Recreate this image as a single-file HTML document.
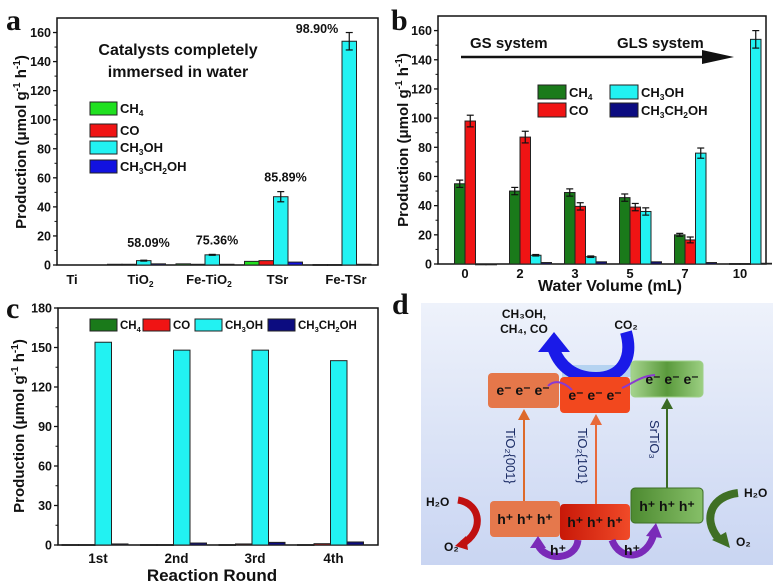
<!DOCTYPE html>
<html><head><meta charset="utf-8">
<style>
html,body{margin:0;padding:0;background:#fff;}
svg{display:block;font-family:"Liberation Sans",Arial,sans-serif;}
.t{font-weight:bold;fill:#111;}
.t text{fill:#111;}
.pl{font-family:"Liberation Serif",serif;font-weight:bold;font-size:30px;fill:#111;}
</style></head>
<body>
<svg id="fig" width="780" height="586" viewBox="0 0 780 586" xmlns="http://www.w3.org/2000/svg">
<defs>
<linearGradient id="bgd" x1="0" y1="0" x2="0" y2="1"><stop offset="0" stop-color="#eef2fb"/><stop offset="1" stop-color="#c9d5f2"/></linearGradient>
<linearGradient id="gre" x1="0" y1="0" x2="1" y2="0"><stop offset="0" stop-color="#a6d48e"/><stop offset="0.5" stop-color="#5a9a3c"/><stop offset="1" stop-color="#9ccf82"/></linearGradient>
<linearGradient id="grh" x1="0" y1="0" x2="1" y2="0"><stop offset="0" stop-color="#4d8a30"/><stop offset="1" stop-color="#86bf68"/></linearGradient>
<linearGradient id="redh" x1="0" y1="0" x2="1" y2="0"><stop offset="0" stop-color="#c81808"/><stop offset="1" stop-color="#f04a28"/></linearGradient>
</defs>

<text class="pl" x="6" y="30">a</text>
<text class="pl" x="391" y="30">b</text>
<text class="pl" x="6" y="318">c</text>
<text class="pl" x="392" y="314">d</text>

<g id="pa"></g>
<g id="pb"></g>
<g id="pc"></g>

<text class="t" x="178" y="55" font-size="16" text-anchor="middle">Catalysts completely</text>
<text class="t" x="178" y="77" font-size="16" text-anchor="middle">immersed in water</text>

<g>
<line x1="461" y1="57" x2="705" y2="57" stroke="#111" stroke-width="2.5"/>
<polygon points="702,50 734,57 702,64" fill="#111"/>
</g>
<text class="t" x="470" y="48" font-size="15">GS system</text>
<text class="t" x="617" y="48" font-size="15">GLS system</text>

<g>
<rect x="421" y="303" width="352" height="262" fill="url(#bgd)"/>
<rect x="562" y="365" width="70" height="12" fill="#a9cdef" opacity="0.8"/>
<path d="M626,332 C634,360 620,378 596,378 C574,378 560,366 554,350" fill="none" stroke="#1a1ae8" stroke-width="12"/>
<polygon points="538,352 554,332 570,352" fill="#1a1ae8"/>
<text x="524" y="318" font-size="12" font-weight="bold" fill="#111" text-anchor="middle">CH₃OH,</text>
<text x="524" y="333" font-size="12" font-weight="bold" fill="#111" text-anchor="middle">CH₄, CO</text>
<text x="626" y="329" font-size="12" font-weight="bold" fill="#111" text-anchor="middle">CO₂</text>
<rect x="488" y="373" width="71" height="35" rx="4" fill="#e5774a"/>
<rect x="560" y="377" width="70" height="36" rx="4" fill="#f2481e"/>
<rect x="631" y="361" width="72" height="36" rx="4" fill="url(#gre)" stroke="#9fd08a"/>
<rect x="490" y="501" width="70" height="36" rx="4" fill="#e5784c"/>
<rect x="560" y="504" width="70" height="36" rx="4" fill="url(#redh)"/>
<rect x="631" y="488" width="72" height="35" rx="4" fill="url(#grh)" stroke="#3d6e26"/>
<g font-size="14" font-weight="bold" fill="#111" text-anchor="middle">
<text x="523" y="395" fill="#111">e⁻ e⁻ e⁻</text>
<text x="595" y="400" fill="#111">e⁻ e⁻ e⁻</text>
<text x="672" y="384" fill="#111">e⁻ e⁻ e⁻</text>
<text x="525" y="524" fill="#111">h⁺ h⁺ h⁺</text>
<text x="595" y="527" fill="#111">h⁺ h⁺ h⁺</text>
<text x="667" y="511" fill="#111">h⁺ h⁺ h⁺</text>
</g>
<line x1="524" y1="501" x2="524" y2="418" stroke="#dd6a2a" stroke-width="2"/><polygon points="518,420 524,409 530,420" fill="#dd6a2a"/>
<line x1="596" y1="504" x2="596" y2="423" stroke="#e86a3a" stroke-width="2"/><polygon points="590,425 596,414 602,425" fill="#e86a3a"/>
<line x1="667" y1="488" x2="667" y2="407" stroke="#3a6a24" stroke-width="2"/><polygon points="661,409 667,398 673,409" fill="#3a6a24"/>
<g font-size="13" fill="#1c2d66">
<text transform="translate(506,428) rotate(90)">TiO₂{001}</text>
<text transform="translate(578,428) rotate(90)">TiO₂{101}</text>
<text transform="translate(650,420) rotate(90)">SrTiO₃</text>
</g>
<path d="M548,386 C556,378 566,384 572,390" fill="none" stroke="#8a3ad0" stroke-width="2"/>
<path d="M655,375 C640,376 632,384 622,388" fill="none" stroke="#8a3ad0" stroke-width="2"/>
<path d="M578,540 C576,560 546,562 538,545" fill="none" stroke="#7a2ab8" stroke-width="7"/>
<polygon points="530,548 538,536 546,548" fill="#7a2ab8"/>
<path d="M612,540 C620,562 648,560 654,533" fill="none" stroke="#7a2ab8" stroke-width="7"/>
<polygon points="646,536 656,523 662,538" fill="#7a2ab8"/>
<text x="558" y="555" font-size="14" font-weight="bold" fill="#111" text-anchor="middle">h⁺</text>
<text x="632" y="555" font-size="14" font-weight="bold" fill="#111" text-anchor="middle">h⁺</text>
<path d="M458,500 C482,504 484,532 462,544" fill="none" stroke="#c01010" stroke-width="7"/>
<polygon points="455,546 466,536 468,550" fill="#c01010"/>
<path d="M738,493 C712,496 702,518 718,538" fill="none" stroke="#3f6f24" stroke-width="8"/>
<polygon points="712,540 726,532 730,548" fill="#3f6f24"/>
<g font-size="12" font-weight="bold" fill="#111">
<text x="426" y="506">H₂O</text>
<text x="444" y="551">O₂</text>
<text x="744" y="497">H₂O</text>
<text x="736" y="546">O₂</text>
</g>
</g>
</svg>
<script>
// ---- Panel a data ----
const aCategories = ["Ti", "TiO₂", "Fe-TiO₂", "TSr", "Fe-TSr"];
const aCH4 = [0, 0.5, 0.8, 2.5, 0.3];
const aCO = [0, 0.5, 0.5, 3, 0.3];
const aCH3OH = [0, 3, 7, 47, 154];
const aEtOH = [0, 0.8, 0.5, 2, 0.5];
const aCH3OHErr = [0, 0.3, 0.3, 3.5, 6];
const aPercents = ["", "58.09%", "75.36%", "85.89%", "98.90%"];
const aTicks = [0, 20, 40, 60, 80, 100, 120, 140, 160];
// ---- Panel b data ----
const bCategories = ["0", "2", "3", "5", "7", "10"];
const bCH4 = [55, 50, 49, 45.5, 20, 0.3];
const bCO = [98, 87, 39.5, 39, 16.5, 0.3];
const bCH3OH = [0, 6, 5, 36, 76, 154];
const bEtOH = [0, 1, 1.5, 1.5, 1, 0.5];
const bCH4Err = [2.5, 2.5, 2.5, 2.5, 1, 0];
const bCOErr = [4, 4, 2.5, 2.5, 2, 0];
const bCH3OHErr = [0, 0.5, 0.5, 2.5, 3.5, 6];
const bTicks = [0, 20, 40, 60, 80, 100, 120, 140, 160];
// ---- Panel c data ----
const cCategories = ["1st", "2nd", "3rd", "4th"];
const cCH4 = [0.3, 0.3, 0.3, 0.3];
const cCO = [0.3, 0.3, 0.8, 1];
const cCH3OH = [154, 148, 148, 140];
const cEtOH = [0.8, 1.5, 2, 2.3];
const cTicks = [0, 30, 60, 90, 120, 150, 180];

const NS = "http://www.w3.org/2000/svg";
function mk(parent, tag, attrs, text) {
  const e = document.createElementNS(NS, tag);
  for (const k in attrs) e.setAttribute(k, attrs[k]);
  if (text !== undefined) e.textContent = text;
  parent.appendChild(e);
  return e;
}
function supText(parent, x, y, size, parts, anchor) {
  const t = mk(parent, "text", {x: x, y: y, "font-size": size, "font-weight": "bold", fill: "#111", "text-anchor": anchor || "start"});
  parts.forEach(p => {
    const s = mk(t, "tspan", {});
    s.textContent = p[0];
    if (p[1] === "sub") { s.setAttribute("font-size", size * 0.65); s.setAttribute("dy", 3); }
    if (p[1] === "back") { s.setAttribute("dy", p[2]); }
  });
  return t;
}
const L_CH4 = [["CH"], ["4", "sub"]];
const L_CO = [["CO"]];
const L_MEOH = [["CH"], ["3", "sub"], ["OH", "back", -3]];
const L_ETOH = [["CH"], ["3", "sub"], ["CH", "back", -3], ["2", "sub"], ["OH", "back", -3]];

function frame(g, x0, x1, yTop, yZero, ymax, ticks) {
  const y = v => yZero - v / ymax * (yZero - yTop);
  const r = mk(g, "rect", {x: x0, y: yTop, width: x1 - x0, height: yZero - yTop, fill: "none", stroke: "#111", "stroke-width": 1.5});
  
  
  ticks.forEach(v => {
    mk(g, "line", {x1: x0 - 4, x2: x0, y1: y(v), y2: y(v), stroke: "#111", "stroke-width": 1.3});
    const t = mk(g, "text", {x: x0 - 6, y: y(v) + 4.5, "font-size": 12.5, "font-weight": "bold", fill: "#111", "text-anchor": "end"}, String(v));
    
    
  });
  for (let i = 0; i < ticks.length - 1; i++) {
    const m = (ticks[i] + ticks[i + 1]) / 2;
    mk(g, "line", {x1: x0 - 2.5, x2: x0, y1: y(m), y2: y(m), stroke: "#111", "stroke-width": 1});
  }
  return y;
}
function yTitle(g, x, yc) {
  const t = mk(g, "text", {transform: "translate(" + x + "," + yc + ") rotate(-90)", "font-size": 15, "font-weight": "bold", fill: "#111", "text-anchor": "middle"});
  
  
  const a = mk(t, "tspan", {}); a.textContent = "Production (μmol g";
  const b = mk(t, "tspan", {"font-size": 10, dy: -6}); b.textContent = "-1";
  const c = mk(t, "tspan", {dy: 6}); c.textContent = " h";
  const d = mk(t, "tspan", {"font-size": 10, dy: -6}); d.textContent = "-1";
  const e = mk(t, "tspan", {dy: 6}); e.textContent = ")";
}
function bar(g, x, w, y, yZero, v, color, name) {
  const r = mk(g, "rect", {x: x, y: y(v), width: w, height: Math.max(yZero - y(v), 0.8), fill: color, stroke: "#222", "stroke-width": 1});
  
  
}
function err(g, cx, y, v, e) {
  if (!e) return;
  mk(g, "line", {x1: cx, x2: cx, y1: y(v - e), y2: y(v + e), stroke: "#111", "stroke-width": 1.2});
  mk(g, "line", {x1: cx - 3.5, x2: cx + 3.5, y1: y(v - e), y2: y(v - e), stroke: "#111", "stroke-width": 1.2});
  mk(g, "line", {x1: cx - 3.5, x2: cx + 3.5, y1: y(v + e), y2: y(v + e), stroke: "#111", "stroke-width": 1.2});
}
function legendEntry(g, x, y, w, h, color, label, size) {
  const r = mk(g, "rect", {x: x, y: y, width: w, height: h, fill: color, stroke: "#222", "stroke-width": 1});
  
  
  const t = supText(g, x + w + 3, y + h - 2, size, label);
  
  
}

(function () {
  const g = document.getElementById("pa");
  const x0 = 57, x1 = 378, yTop = 18, yZero = 265;
  const y = frame(g, x0, x1, yTop, yZero, 170, aTicks);
  yTitle(g, 26, 142);
  const step = 68.5, start = 68, w = 14.5;
  const cols = ["#20e020", "#f01414", "#22f2f2", "#1212e0"];
  aCategories.forEach((c, i) => {
    const cx = start + i * step;
    const series = [aCH4[i], aCO[i], aCH3OH[i], aEtOH[i]];
    series.forEach((v, k) => { if (i > 0) bar(g, cx - 2 * w + k * w, w, y, yZero, v, cols[k], "bar-a-" + i + "-" + k); });
    err(g, cx + w / 2, y, aCH3OH[i], aCH3OHErr[i]);
    const lab = supText(g, cx + 4, yZero + 19, 13, c.indexOf("₂") >= 0 ? [[c.replace("₂", "")], ["2", "sub"]] : [[c]], "middle");
    
    
    if (aPercents[i]) {
      const py = Math.min(y(aCH3OH[i] + aCH3OHErr[i]) - 10, yZero - 18);
      const px = i === 4 ? cx - 25 : cx + 12;
      const t = mk(g, "text", {x: px, y: i === 4 ? 33 : py, "font-size": 12.5, "font-weight": "bold", fill: "#111", "text-anchor": "middle"}, aPercents[i]);
      
      
    }
  });
  legendEntry(g, 90, 102, 27, 13, cols[0], L_CH4, 13);
  legendEntry(g, 90, 124, 27, 13, cols[1], L_CO, 13);
  legendEntry(g, 90, 141, 27, 13, cols[2], L_MEOH, 13);
  legendEntry(g, 90, 160, 27, 13, cols[3], L_ETOH, 13);
})();

(function () {
  const g = document.getElementById("pb");
  const x0 = 438, x1 = 766, yTop = 16, yZero = 264;
  const y = frame(g, x0, x1, yTop, yZero, 170, bTicks);
  yTitle(g, 408, 140);
  const step = 55, start = 465, w = 10.5;
  const cols = ["#1a7a1a", "#f01414", "#22f2f2", "#0c0c80"];
  const errs = [bCH4Err, bCOErr, bCH3OHErr, null];
  bCategories.forEach((c, i) => {
    const cx = start + i * step;
    const series = [bCH4[i], bCO[i], bCH3OH[i], bEtOH[i]];
    series.forEach((v, k) => {
      bar(g, cx - w + k * w, w, y, yZero, v, cols[k], "bar-b-" + i + "-" + k);
      if (errs[k]) err(g, cx - w + k * w + w / 2, y, v, errs[k][i]);
    });
    const t = mk(g, "text", {x: cx, y: yZero + 14, "font-size": 13, "font-weight": "bold", fill: "#111", "text-anchor": "middle"}, c);
    
    
  });
  const xt = mk(g, "text", {x: 610, y: 291, "font-size": 16, "font-weight": "bold", fill: "#111", "text-anchor": "middle"}, "Water Volume (mL)");
  
  
  legendEntry(g, 538, 85, 28, 14, cols[0], L_CH4, 13);
  legendEntry(g, 538, 103, 28, 14, cols[1], L_CO, 13);
  legendEntry(g, 610, 85, 28, 14, cols[2], L_MEOH, 13);
  legendEntry(g, 610, 103, 28, 14, cols[3], L_ETOH, 13);
})();

(function () {
  const g = document.getElementById("pc");
  const x0 = 58, x1 = 378, yTop = 308, yZero = 545;
  const y = frame(g, x0, x1, yTop, yZero, 180, cTicks);
  yTitle(g, 24, 426);
  const step = 78.5, start = 95, w = 16.5;
  const cols = ["#1a7a1a", "#f01414", "#22f2f2", "#0c0c80"];
  cCategories.forEach((c, i) => {
    const cx = start + i * step;
    const series = [cCH4[i], cCO[i], cCH3OH[i], cEtOH[i]];
    series.forEach((v, k) => bar(g, cx - 2 * w + k * w, w, y, yZero, v, cols[k], "bar-c-" + i + "-" + k));
    const t = mk(g, "text", {x: cx + 3, y: yZero + 18, "font-size": 13.5, "font-weight": "bold", fill: "#111", "text-anchor": "middle"}, c);
    
    
  });
  const xt = mk(g, "text", {x: 212, y: 581, "font-size": 17, "font-weight": "bold", fill: "#111", "text-anchor": "middle"}, "Reaction Round");
  
  
  legendEntry(g, 90, 319, 27, 12, cols[0], L_CH4, 11.5);
  legendEntry(g, 143, 319, 27, 12, cols[1], L_CO, 11.5);
  legendEntry(g, 195, 319, 27, 12, cols[2], L_MEOH, 11.5);
  legendEntry(g, 268, 319, 27, 12, cols[3], L_ETOH, 11.5);
})();
</script>
</body></html>
